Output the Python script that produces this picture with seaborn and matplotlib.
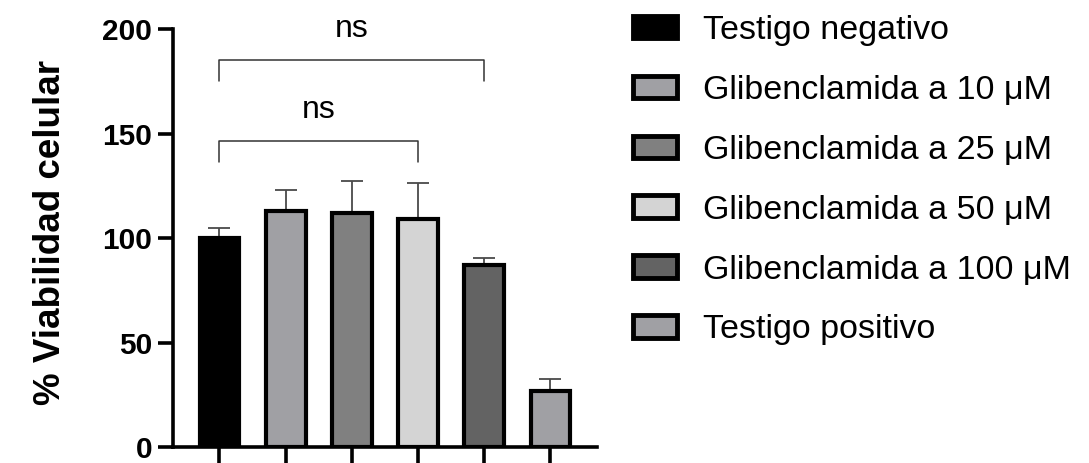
import numpy as np
import pandas as pd
import matplotlib
matplotlib.use("Agg")
import matplotlib.pyplot as plt
import matplotlib.patches as mpatches
import seaborn as sns

# Datos
grupos = ["Testigo negativo", "Glibenclamida a 10 \u03bcM", "Glibenclamida a 25 \u03bcM",
          "Glibenclamida a 50 \u03bcM", "Glibenclamida a 100 \u03bcM", "Testigo positivo"]
viabilidad = [100, 113, 112, 109, 87, 27]
desviacion = [5, 10, 15.5, 17.5, 3.5, 5.5]
colores = ["#000000", "#a0a0a4", "#808080", "#d4d4d4", "#636363", "#a0a0a4"]

# comparaciones (grupo i, grupo j, altura, texto)
comp_i = [0, 0]
comp_j = [4, 3]
comp_y = [185, 146.5]
comp_txt = ["ns", "ns"]


def main():
    sns.set_style("ticks")
    plt.rcParams['font.family'] = ['Liberation Sans', 'DejaVu Sans']
    plt.rcParams['text.color'] = 'black'
    plt.rcParams['axes.labelcolor'] = 'black'
    plt.rcParams['xtick.color'] = 'black'
    plt.rcParams['ytick.color'] = 'black'
    plt.rcParams['axes.edgecolor'] = 'black'

    df = pd.DataFrame({'grupo': grupos, 'viab': viabilidad})

    fig = plt.figure(figsize=(10.89, 4.63), dpi=100)
    ax = fig.add_axes([0.159, 0.0346, 0.389, 0.9026])

    sns.barplot(data=df, x='grupo', y='viab', hue='grupo', palette=colores,
                order=grupos, hue_order=grupos, dodge=False, legend=False,
                width=0.6, edgecolor='black', linewidth=3, saturation=1, ax=ax,
                zorder=3)

    # barras de error solo hacia arriba
    xs = np.arange(len(grupos))
    ax.errorbar(xs, viabilidad, yerr=[np.zeros(len(desviacion)), desviacion],
                fmt='none', ecolor='#4a4a4a', elinewidth=1.3, capsize=8,
                capthick=1.3, zorder=2)

    # corchetes de significancia
    for i, j, y, t in zip(comp_i, comp_j, comp_y, comp_txt):
        ax.plot([i, i, j, j], [y - 10, y, y, y - 10], color='#333333',
                lw=1.1, clip_on=False)
        ax.text((i + j) / 2, y + 11, t, ha='center', va='baseline',
                fontsize=23, clip_on=False)

    ax.set_xlim(-0.7, 5.7)
    ax.set_ylim(0, 200)
    ax.set_yticks([0, 50, 100, 150, 200])
    ax.set_xticks(xs)
    ax.set_xticklabels([])
    ax.set_xlabel('')
    ax.set_ylabel('% Viabilidad celular', fontsize=26.5, fontweight='bold')
    ax.yaxis.set_label_coords(-0.248, 0.514)
    for lbl in ax.get_yticklabels():
        lbl.set_fontweight('bold')
    ax.tick_params(axis='y', labelsize=21.5, width=2.6, length=11, pad=4)
    ax.tick_params(axis='x', width=2.6, length=12)
    for s in ['left', 'bottom']:
        ax.spines[s].set_linewidth(2.6)
    sns.despine(ax=ax)

    handles = [mpatches.Patch(facecolor=c, edgecolor='black', linewidth=3.5)
               for c in colores]
    fig.legend(handles, grupos, loc='upper left', bbox_to_anchor=(0.581, 0.968),
               frameon=False, fontsize=24.5, handlelength=1.3, handleheight=0.63,
               handletextpad=0.76, labelspacing=0.85, borderaxespad=0,
               borderpad=0)

    fig.savefig('out.png', dpi=100)


if __name__ == '__main__':
    main()
